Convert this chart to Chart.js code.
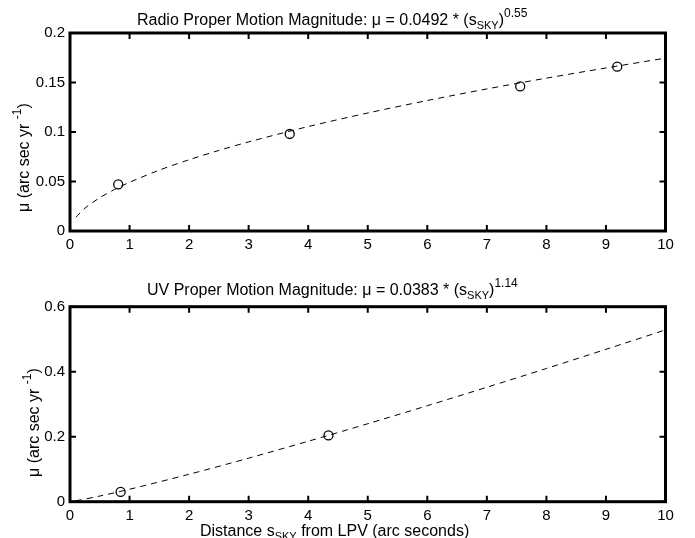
<!DOCTYPE html>
<html>
<head>
<meta charset="utf-8">
<script src="https://cdn.jsdelivr.net/npm/chart.js@4"></script>
<style>
  body { margin: 0; background: #fff; width: 695px; height: 538px; overflow: hidden; position: relative; }
  canvas { position: absolute; left: 0; }
  #c1 { top: 0; }
  #c2 { top: 265px; }
</style>
</head>
<body>
<canvas id="c1" width="695" height="265"></canvas>
<canvas id="c2" width="695" height="273"></canvas>
<script>
const radioX = [0.81, 3.69, 7.56, 9.19];
const radioY = [0.047, 0.098, 0.146, 0.166];
const radioFitX = [0.1, 0.25, 0.5, 0.75, 1, 1.5, 2, 2.5, 3, 4, 5, 6, 7, 8, 9, 10];
const radioFitY = [0.0139, 0.0230, 0.0336, 0.0420, 0.0492, 0.0615, 0.0720, 0.0814, 0.0900, 0.1055, 0.1192, 0.1318, 0.1435, 0.1544, 0.1647, 0.1746];

const uvX = [0.85, 4.34];
const uvY = [0.030, 0.204];
const uvFitX = [0.1, 0.5, 1, 2, 3, 4, 5, 6, 7, 8, 9, 10];
const uvFitY = [0.0028, 0.0174, 0.0383, 0.0844, 0.1340, 0.1860, 0.2399, 0.2953, 0.3521, 0.4099, 0.4689, 0.5286];

// text pieces: [text, 'sub' | 'sup' | undefined]
const radioTitle = [["Radio Proper Motion Magnitude: \u03bc = 0.0492 * (s"], ["SKY", "sub"], [")"], ["0.55", "sup"]];
const uvTitle = [["UV Proper Motion Magnitude: \u03bc = 0.0383 * (s"], ["SKY", "sub"], [")"], ["1.14", "sup"]];
const yLabel = [["\u03bc (arc sec yr "], ["-1", "sup"], [")"]];
const xLabel = [["Distance s"], ["SKY", "sub"], [" from LPV (arc seconds)"]];

const FONT = "'Liberation Sans', Arial, Helvetica, sans-serif";

function drawRich(ctx, segs, x, y) {
  let cx = x;
  segs.forEach(([t, kind]) => {
    let size = 16, dy = 0;
    if (kind === 'sub') { size = 11; dy = 4; }
    if (kind === 'sup') { size = 12; dy = -8; }
    ctx.font = size + "px " + FONT;
    ctx.fillText(t, cx, y + dy);
    cx += ctx.measureText(t).width;
  });
}

const matlabBox = {
  id: 'matlabBox',
  afterDraw(chart, args, opts) {
    const ctx = chart.ctx;
    const a = chart.chartArea;
    const xs = chart.scales.x, ys = chart.scales.y;
    ctx.save();
    ctx.strokeStyle = '#000';
    ctx.fillStyle = '#000';
    // inward ticks on all four sides
    ctx.lineWidth = 2;
    ctx.beginPath();
    xs.ticks.forEach(t => {
      const px = xs.getPixelForValue(t.value);
      ctx.moveTo(px, a.bottom); ctx.lineTo(px, a.bottom - 6);
      ctx.moveTo(px, a.top); ctx.lineTo(px, a.top + 6);
    });
    ys.ticks.forEach(t => {
      const py = ys.getPixelForValue(t.value);
      ctx.moveTo(a.left, py); ctx.lineTo(a.left + 6, py);
      ctx.moveTo(a.right, py); ctx.lineTo(a.right - 6, py);
    });
    ctx.stroke();
    ctx.lineWidth = 3;
    ctx.strokeRect(a.left, a.top, a.right - a.left, a.bottom - a.top);

    ctx.textBaseline = 'alphabetic';
    ctx.textAlign = 'left';
    drawRich(ctx, opts.title, opts.titleX, opts.titleY);
    if (opts.xlabel) drawRich(ctx, opts.xlabel, opts.xlabelX, opts.xlabelY);

    ctx.translate(opts.ylabelX, opts.ylabelY);
    ctx.rotate(-Math.PI / 2);
    drawRich(ctx, yLabel, 0, 0);
    ctx.restore();
  }
};

function makeChart(id, px, py, fx, fy, yMax, yStep, box, xAxisH) {
  return new Chart(document.getElementById(id), {
    type: 'scatter',
    data: {
      datasets: [
        {
          data: fx.map((v, i) => ({ x: v, y: fy[i] })),
          showLine: true,
          borderColor: '#000',
          borderWidth: 1,
          borderDash: [6, 5],
          pointRadius: 0,
          tension: 0.3
        },
        {
          data: px.map((v, i) => ({ x: v, y: py[i] })),
          pointStyle: 'circle',
          pointRadius: 4.5,
          pointBorderWidth: 1.3,
          pointBorderColor: '#000',
          pointBackgroundColor: 'rgba(0,0,0,0)'
        }
      ]
    },
    options: {
      responsive: false,
      animation: false,
      layout: { padding: { left: 0, right: 29.5, top: box.top, bottom: 0 } },
      plugins: { legend: { display: false }, tooltip: { enabled: false }, matlabBox: box },
      scales: {
        x: {
          type: 'linear', min: 0, max: 10,
          grid: { display: false, drawTicks: false },
          border: { display: false },
          ticks: { stepSize: 1, color: '#000', padding: 5, font: { family: FONT, size: 15 } },
          afterFit: s => { s.height = xAxisH; }
        },
        y: {
          type: 'linear', min: 0, max: yMax,
          grid: { display: false, drawTicks: false },
          border: { display: false },
          ticks: {
            stepSize: yStep, color: '#000', padding: 5, font: { family: FONT, size: 15 },
            callback: v => String(+v.toFixed(3))
          },
          afterFit: s => { s.width = 70; }
        }
      }
    },
    plugins: [matlabBox]
  });
}

makeChart('c1', radioX, radioY, radioFitX, radioFitY, 0.2, 0.05,
  { top: 33, title: radioTitle, titleX: 137, titleY: 25, ylabelX: 29, ylabelY: 212 }, 34);
makeChart('c2', uvX, uvY, uvFitX, uvFitY, 0.6, 0.2,
  { top: 41.7, title: uvTitle, titleX: 147, titleY: 30, ylabelX: 39, ylabelY: 212,
    xlabel: xLabel, xlabelX: 200, xlabelY: 271 }, 36.3);
</script>
</body>
</html>
